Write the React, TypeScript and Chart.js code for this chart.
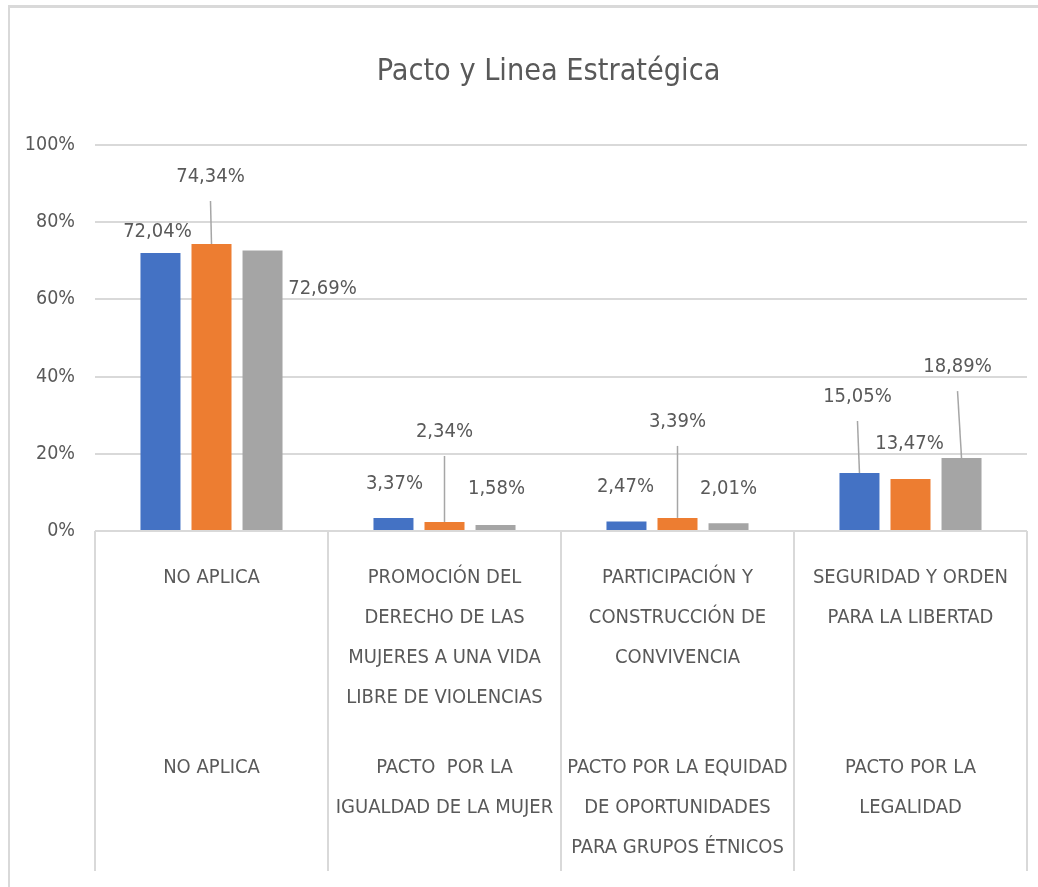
import React, { useEffect, useRef } from 'react';
import { Chart, registerables } from 'chart.js';

Chart.register(...registerables);

// ---- Data ----
const lineaLabels: string[][] = [
  ['NO APLICA'],
  ['PROMOCIÓN DEL', 'DERECHO DE LAS', 'MUJERES A UNA VIDA', 'LIBRE DE VIOLENCIAS'],
  ['PARTICIPACIÓN Y', 'CONSTRUCCIÓN DE', 'CONVIVENCIA'],
  ['SEGURIDAD Y ORDEN', 'PARA LA LIBERTAD'],
];
const pactoLabels: string[][] = [
  ['NO APLICA'],
  ['PACTO  POR LA', 'IGUALDAD DE LA MUJER'],
  ['PACTO POR LA EQUIDAD', 'DE OPORTUNIDADES', 'PARA GRUPOS ÉTNICOS'],
  ['PACTO POR LA', 'LEGALIDAD'],
];
const seriesNames = ['Serie 1', 'Serie 2', 'Serie 3'];
const serie1 = [72.04, 3.37, 2.47, 15.05];
const serie2 = [74.34, 2.34, 3.39, 13.47];
const serie3 = [72.69, 1.58, 2.01, 18.89];
const yMin = 0;
const yMax = 100;
const yStep = 20;
const chartTitle = 'Pacto y Linea Estratégica';

// label placement offsets (dx, dy) from bar top, per series per category
const labelOffsets: number[][][] = [
  [[-3, -21], [1, -34], [-1, -35], [-2, -76]],
  [[-1, -67], [0, -90], [0, -96], [-1, -35]],
  [[60, 38], [1, -36], [0, -34], [-4, -91]],
];

const colors = ['#4472C4', '#ED7D31', '#A5A5A5'];
const FONT = "'Liberation Sans Narrow', 'DejaVu Sans Condensed', 'Arial Narrow', sans-serif";
const TEXT = '#595959';
const GRID = '#d9d9d9';

const fmt = (v: number) => v.toFixed(2).replace('.', ',') + '%';

// Title centred on the whole chart object (Excel style)
const titlePlugin = {
  id: 'objTitle',
  afterDraw(chart: any) {
    const ctx = chart.ctx;
    ctx.save();
    ctx.font = `30.3px ${FONT}`;
    ctx.fillStyle = TEXT;
    ctx.textAlign = 'center';
    ctx.textBaseline = 'middle';
    ctx.fillText(chartTitle, chart.width / 2, 65);
    ctx.restore();
  },
};

const labelPlugin = {
  id: 'excelLabels',
  afterDatasetsDraw(chart: any) {
    const ctx = chart.ctx;
    ctx.save();
    ctx.font = `20px ${FONT}`;
    ctx.fillStyle = TEXT;
    ctx.textAlign = 'center';
    ctx.textBaseline = 'middle';
    chart.data.datasets.forEach((ds: any, i: number) => {
      const meta = chart.getDatasetMeta(i);
      meta.data.forEach((el: any, j: number) => {
        const [dx, dy] = labelOffsets[i][j];
        const tx = el.x + dx;
        const ty = el.y + dy;
        if (dy < -50) {
          ctx.strokeStyle = '#a6a6a6';
          ctx.lineWidth = 1.5;
          ctx.beginPath();
          ctx.moveTo(tx, ty + 24);
          ctx.lineTo(el.x, el.y);
          ctx.stroke();
        }
        ctx.fillText(fmt(ds.data[j]), tx, ty);
      });
    });
    ctx.restore();
  },
};

const separatorPlugin = {
  id: 'separators',
  afterDraw(chart: any) {
    const x = chart.scales.x;
    const x2 = chart.scales.x2;
    const ctx = chart.ctx;
    const n = x.ticks.length;
    const step = x.getPixelForValue(1) - x.getPixelForValue(0);
    ctx.save();
    ctx.strokeStyle = GRID;
    ctx.lineWidth = 2;
    for (let j = 0; j <= n; j++) {
      const px = x.getPixelForValue(j) - step / 2;
      ctx.beginPath();
      ctx.moveTo(px, chart.chartArea.bottom);
      ctx.lineTo(px, x2.bottom);
      ctx.stroke();
    }
    ctx.restore();
  },
};

const CANVAS_W = 1077;
const CANVAS_H = 896;

export default function App() {
  const ref = useRef<HTMLCanvasElement>(null);
  useEffect(() => {
    document.body.style.overflow = 'hidden';
    document.documentElement.style.overflow = 'hidden';
    const chart = new Chart(ref.current!, {
      type: 'bar',
      data: {
        labels: lineaLabels,
        datasets: [serie1, serie2, serie3].map((d, i) => ({
          label: seriesNames[i],
          data: d,
          backgroundColor: colors[i],
          borderWidth: 0,
          categoryPercentage: 0.657,
          barPercentage: 0.784,
        })),
      },
      options: {
        animation: false,
        responsive: false,
        devicePixelRatio: 1,
        layout: { padding: { top: 138, left: 0, right: 60, bottom: 32 } },
        plugins: {
          legend: { display: false },
          tooltip: { enabled: false },
          title: { display: false },
        },
        scales: {
          y: {
            min: yMin,
            max: yMax,
            ticks: {
              stepSize: yStep,
              padding: 20,
              color: TEXT,
              font: { family: FONT, size: 19.5 },
              callback: (v: any) => v + '%',
            },
            grid: { color: GRID, lineWidth: 2, drawTicks: false },
            border: { display: false },
            afterFit: (s: any) => { s.width = 85; },
          },
          x: {
            weight: 0,
            position: 'bottom',
            grid: { display: false, drawTicks: false },
            border: { display: false },
            ticks: {
              padding: 27,
              color: TEXT,
              maxRotation: 0,
              autoSkip: false,
              font: { family: FONT, size: 20, lineHeight: 2 },
            },
            afterFit: (s: any) => { s.height = 214; },
          },
          x2: {
            type: 'category',
            labels: pactoLabels as any,
            offset: true,
            weight: 1,
            position: 'bottom',
            grid: { display: false, drawTicks: false },
            border: { display: false },
            ticks: {
              padding: 3,
              color: TEXT,
              maxRotation: 0,
              autoSkip: false,
              font: { family: FONT, size: 20, lineHeight: 2 },
            },
            afterFit: (s: any) => { s.height = 126; },
          },
        },
      } as any,
      plugins: [labelPlugin, separatorPlugin, titlePlugin],
    });
    return () => chart.destroy();
  }, []);
  return (
    <div
      style={{
        position: 'fixed',
        left: 8,
        top: 5,
        width: 1081,
        height: 900,
        borderTop: `3px solid ${GRID}`,
        borderLeft: `2px solid ${GRID}`,
        boxSizing: 'border-box',
        overflow: 'hidden',
        background: '#fff',
      }}
    >
      <canvas
        ref={ref}
        width={CANVAS_W}
        height={CANVAS_H}
        style={{ position: 'absolute', left: 0, top: -1, width: CANVAS_W, height: CANVAS_H }}
      />
    </div>
  );
}
